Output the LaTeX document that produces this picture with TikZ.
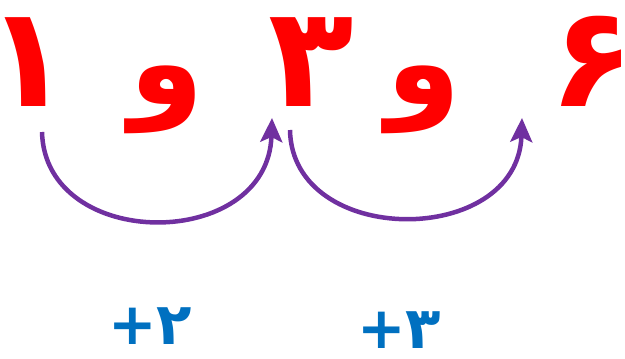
\documentclass[tikz,border=0pt]{standalone}
\usepackage{fontspec}
\newfontfamily\arabicfont[Script=Arabic]{DejaVu Sans}
\TeXXeTstate=1
\usetikzlibrary{arrows.meta}
\definecolor{digitred}{HTML}{FF0000}
\definecolor{arcpurple}{HTML}{7030A0}
\definecolor{labelblue}{HTML}{0070C0}
\begin{document}
\begin{tikzpicture}[x=1pt,y=-1pt,
  digit/.style={inner sep=0pt,text=digitred,text height=60pt,text depth=0pt,font=\arabicfont\bfseries\fontsize{140}{140}\selectfont},
  conj/.style={inner sep=0pt,text=digitred,font=\arabicfont\bfseries\fontsize{120}{120}\selectfont},
  lbl/.style={inner sep=0pt,text=labelblue,text height=30pt,text depth=0pt,font=\arabicfont\bfseries\fontsize{58}{58}\selectfont},
  hop/.style={draw=arcpurple,line width=4.5pt,-{Stealth[length=24pt,width=22pt,inset=5pt]}}]
\useasboundingbox (0,0) rectangle (625,359);
\node[digit,anchor=base] (d1) at (28,106) {١};
\node[conj] (w1) at (167,100) {و};
\node[digit,anchor=base] (d3) at (311,106) {٣};
\node[conj] (w2) at (424,100) {و};
\node[digit,anchor=base] (d6) at (592,106) {۶};
\coordinate (s1) at (42,132);
\coordinate (e1) at (272,118);
\coordinate (s2) at (290,130);
\coordinate (e2) at (522,118);
\draw[hop] (s1) .. controls (45,252) and (268,252) .. (e1);
\draw[hop] (s2) .. controls (292,248) and (518,248) .. (e2);
\node[lbl,anchor=base] (l1) at (150,344) {۲+};
\node[lbl,anchor=base] (l2) at (399,348) {۳+};
\end{tikzpicture}
\end{document}
